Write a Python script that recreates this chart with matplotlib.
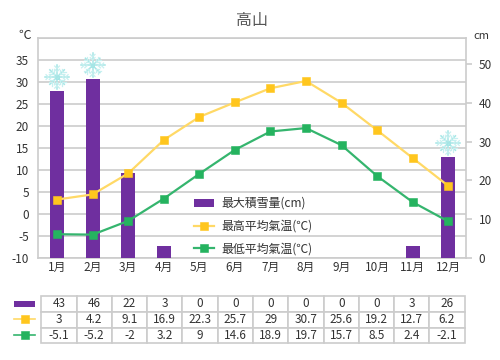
import matplotlib
matplotlib.use('Agg')
import numpy as np
import matplotlib.pyplot as plt
from matplotlib.patches import Rectangle
from matplotlib.transforms import IdentityTransform

plt.rcParams['font.family'] = ['Noto Sans CJK JP', 'DejaVu Sans']

months = ['1月', '2月', '3月', '4月', '5月', '6月', '7月', '8月', '9月', '10月', '11月', '12月']
snow_cm = [43, 46, 22, 3, 0, 0, 0, 0, 0, 0, 3, 26]
high_c = [3, 4.2, 9.1, 16.9, 22.3, 25.7, 29, 30.7, 25.6, 19.2, 12.7, 6.2]
low_c = [-5.1, -5.2, -2, 3.2, 9, 14.6, 18.9, 19.7, 15.7, 8.5, 2.4, -2.1]
temp_ticks = [-10, -5, 0, 5, 10, 15, 20, 25, 30, 35]
snow_ticks = [0, 10, 20, 30, 40, 50]
flake_months = [0, 1, 11]

PURPLE = '#6F2F9F'
YELLOW_LINE = '#FFD966'
YELLOW = '#FFC61E'
GREEN_LINE = '#35B56E'
GREEN = '#25B35F'
GRID = '#CCCCCC'
TEXT = '#333333'
W, H = 500, 360


def box(left, top, right, bottom):
    return [left / W, 1 - bottom / H, (right - left) / W, (bottom - top) / H]


def snowflake(cx, cy, r=12):
    # arms with small side branches, in pixels
    tr = IdentityTransform()
    for deg in range(0, 360, 45):
        a = np.deg2rad(deg)
        arm = r if deg % 90 == 0 else 0.85 * r
        dx, dy = np.cos(a), np.sin(a)
        fig.add_artist(plt.Line2D([cx, cx + arm * dx], [cy, cy + arm * dy],
                                  color='#A5E6E6', lw=1.1, transform=tr))
        for frac in (0.45, 0.72):
            for side in (-45, 45):
                b = a + np.deg2rad(side)
                px, py = cx + frac * arm * dx, cy + frac * arm * dy
                fig.add_artist(plt.Line2D([px, px + 0.28 * r * np.cos(b)], [py, py + 0.28 * r * np.sin(b)],
                                          color='#C6F0F0', lw=0.9, transform=tr))
    fig.add_artist(Rectangle((cx - 1.5, cy - 1.5), 3, 3, fc='white', ec='#8FDEDE', lw=0.6, transform=tr))


fig = plt.figure(figsize=(5, 3.6), dpi=100, facecolor='white')

# grid and left axis at the bottom, bars over the grid, lines over the bars
ax = fig.add_axes(box(37.5, 37.5, 466, 258))
ax.set_xlim(-0.55, 11.5)
ax.set_ylim(-10, 40)
ax.set_yticks(temp_ticks + [40])
ax.set_yticklabels([str(v) for v in temp_ticks] + [''], fontsize=8.5, color=TEXT)
ax.set_xticks(range(12))
ax.set_xticklabels(months, fontsize=8.5, color=TEXT)
ax.tick_params(axis='y', length=0, pad=6)
ax.tick_params(axis='x', length=0, pad=2)
ax.grid(axis='y', color=GRID, lw=1.2)
ax.set_axisbelow(True)
for s in ax.spines.values():
    s.set_color(GRID)
    s.set_linewidth(1.2)

ax_bar = ax.twinx()
ax_bar.set_ylim(0, 56.8)
ax_bar.set_yticks(snow_ticks)
ax_bar.set_yticklabels([str(v) for v in snow_ticks], fontsize=8.5, color=TEXT)
ax_bar.tick_params(axis='y', length=4, width=1.2, color=GRID, pad=5)
ax_bar.patch.set_visible(False)
for s in ax_bar.spines.values():
    s.set_visible(False)
bars = ax_bar.bar(range(12), snow_cm, width=0.39, color=PURPLE, label='最大積雪量(cm)')

# the markers in the reference sit on a slightly tighter scale than its gridlines
ax_line = ax.twinx()
ax_line.set_ylim(-10.66, 40.86)
ax_line.set_yticks([])
ax_line.patch.set_visible(False)
for s in ax_line.spines.values():
    s.set_visible(False)
line_hi, = ax_line.plot(range(12), high_c, color=YELLOW_LINE, lw=1.6, marker='s', ms=5.6, mew=0.4,
                        mfc=YELLOW, mec=YELLOW, label='最高平均氣温(℃)')
line_lo, = ax_line.plot(range(12), low_c, color=GREEN_LINE, lw=1.6, marker='s', ms=5.6, mew=0.4,
                        mfc=GREEN, mec=GREEN, label='最低平均氣温(℃)')

leg = ax_line.legend(handles=[bars, line_hi, line_lo], loc='lower left', bbox_to_anchor=(0.345, -0.026),
                     frameon=False, prop={'size': 8.6}, labelspacing=0.81, handlelength=1.7,
                     handletextpad=0.6, borderaxespad=0.3)
for t in leg.get_texts():
    t.set_color(TEXT)

fig.text(252 / W, 1 - 21 / H, '高山', fontsize=11.5, color='#555555', ha='center', va='center')
fig.text(25 / W, 1 - 35 / H, '℃', fontsize=9, color=TEXT, ha='center', va='center')
fig.text(481 / W, 1 - 36 / H, 'cm', fontsize=8, color=TEXT, ha='center', va='center')

# data table under the chart
ax_tab = fig.add_axes(box(41.3, 296, 464.7, 343.3))
ax_tab.axis('off')
rows = [snow_cm, high_c, low_c]
tab = ax_tab.table(cellText=[[str(v) for v in r] for r in rows], bbox=[0, 0, 1, 1], cellLoc='center')
tab.auto_set_font_size(False)
tab.set_fontsize(8.5)
for cell in tab.get_celld().values():
    cell.set_edgecolor(GRID)
    cell.set_linewidth(1.2)
    cell.get_text().set_color(TEXT)

# table row keys
ax_key = fig.add_axes([0, 0, 1, 1])
ax_key.set_xlim(0, W)
ax_key.set_ylim(H, 0)
ax_key.axis('off')
ax_key.add_patch(Rectangle((14, 301), 21, 6, fc=PURPLE, ec='none'))
ax_key.plot([14, 35], [318.7, 318.7], color=YELLOW_LINE, lw=1.2)
ax_key.plot([24.5], [318.7], marker='s', ms=5.6, mew=0.4, color=YELLOW)
ax_key.plot([14, 35], [335, 335], color=GREEN_LINE, lw=1.2)
ax_key.plot([24.5], [335], marker='s', ms=5.6, mew=0.4, color=GREEN)

fig.canvas.draw()
for i in flake_months:
    px, py = ax_bar.transData.transform((i, snow_cm[i]))
    snowflake(px, py + 14)

fig.savefig('out.png', dpi=100)
